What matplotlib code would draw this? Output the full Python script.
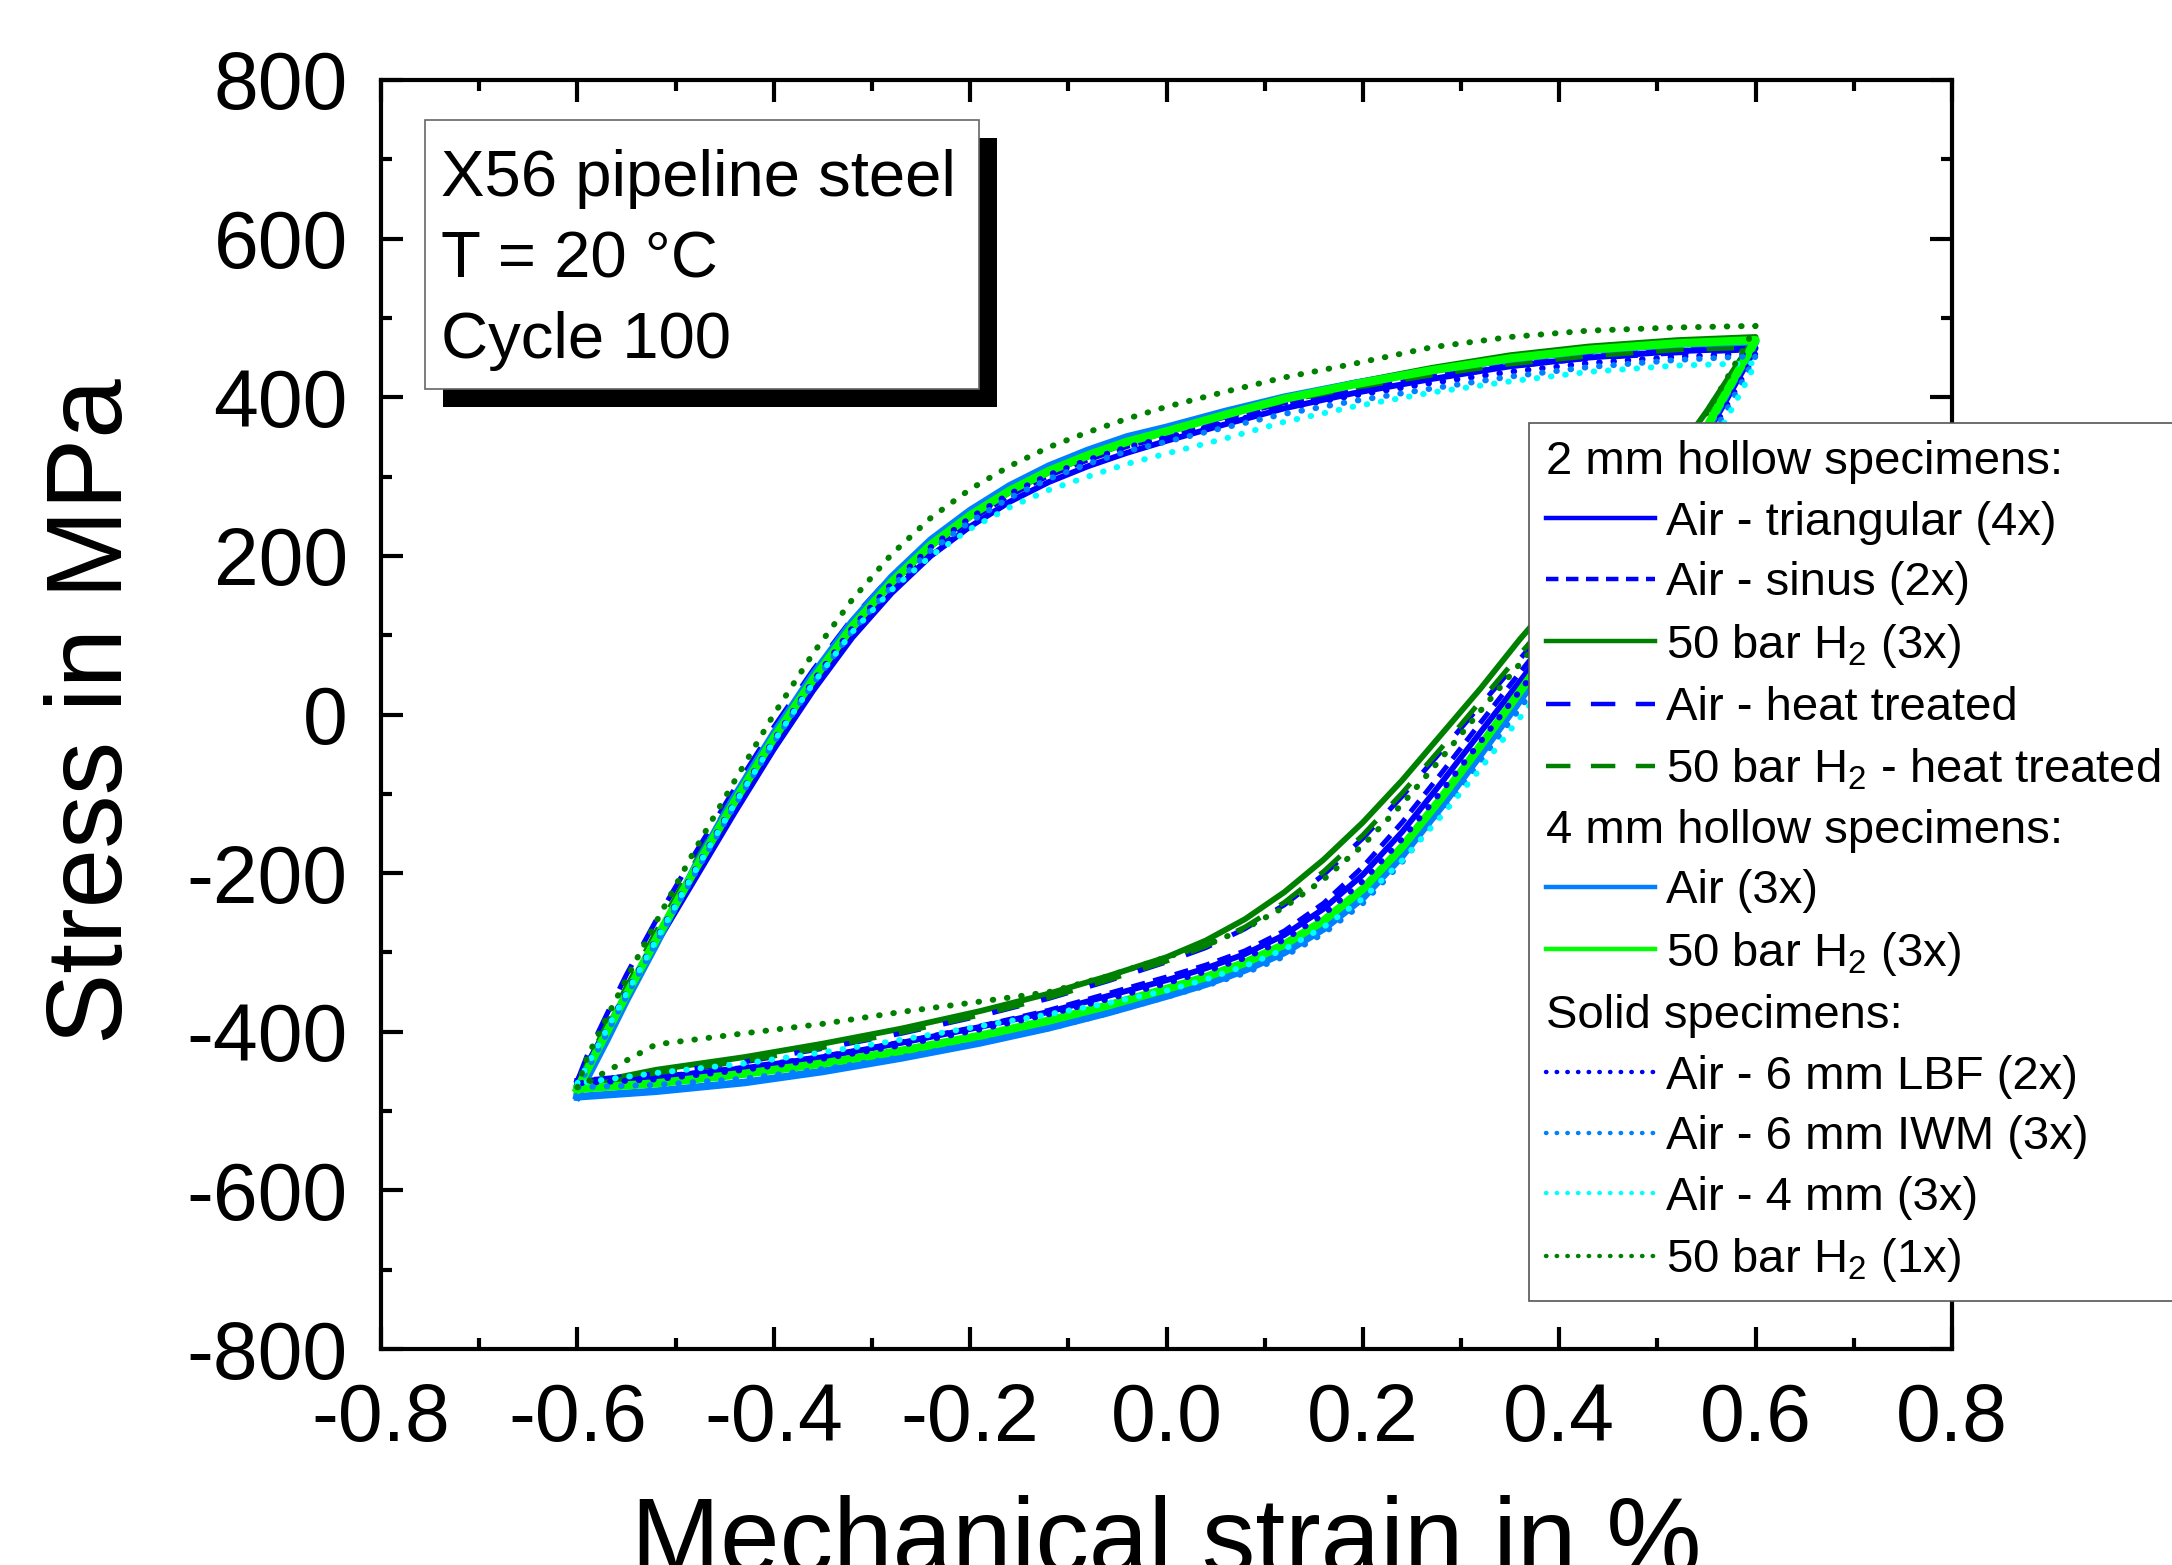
import matplotlib
matplotlib.use('Agg')
import matplotlib.pyplot as plt
from matplotlib.lines import Line2D
from matplotlib.patches import Rectangle
from matplotlib.ticker import MultipleLocator

plt.rcParams['font.family'] = ['Liberation Sans', 'DejaVu Sans']
plt.rcParams['mathtext.fontset'] = 'custom'
plt.rcParams['mathtext.rm'] = 'Liberation Sans'
plt.rcParams['mathtext.it'] = 'Liberation Sans:italic'
plt.rcParams['mathtext.bf'] = 'Liberation Sans:bold'
plt.rcParams['axes.unicode_minus'] = False

# ---------------- data ----------------
# strain of the loading (upper) and unloading (lower) branch, in %
eps_up = [-0.60, -0.59, -0.57, -0.55, -0.52, -0.48, -0.44, -0.40, -0.36, -0.32, -0.28, -0.24, -0.20,
          -0.16, -0.12, -0.08, -0.04, 0.00, 0.06, 0.12, 0.19, 0.27, 0.35, 0.43, 0.52, 0.60]
eps_dn = [0.60, 0.59, 0.57, 0.55, 0.52, 0.48, 0.44, 0.40, 0.36, 0.32, 0.28, 0.24, 0.20,
          0.16, 0.12, 0.08, 0.04, 0.00, -0.06, -0.12, -0.19, -0.27, -0.35, -0.43, -0.52, -0.60]

# stress in MPa -- 2 mm hollow specimens
air_tri_up = [-462, -440, -396, -353, -290, -207, -124, -44, 30, 97, 153, 200, 237, 268, 293, 313, 330, 345, 366, 386, 405, 423, 439, 450, 458, 462]
air_tri_dn = [462, 440, 396, 353, 302, 236, 170, 106, 42, -22, -86, -148, -202, -245, -278, -302, -320, -335, -355, -375, -394, -414, -432, -446, -458, -462]
air_sin_up = [-465, -441, -395, -350, -285, -200, -116, -36, 38, 105, 161, 208, 245, 276, 301, 321, 338, 351, 371, 391, 409, 427, 441, 452, 460, 463]
air_sin_dn = [463, 442, 399, 357, 306, 242, 178, 115, 53, -10, -74, -136, -192, -238, -273, -298, -316, -331, -352, -373, -393, -413, -431, -445, -457, -465]
h2_up = [-468, -444, -398, -353, -286, -197, -112, -32, 42, 109, 165, 212, 249, 280, 305, 325, 342, 356, 378, 399, 418, 437, 453, 464, 472, 476]
h2_dn = [476, 458, 420, 382, 330, 266, 212, 152, 95, 33, -25, -83, -136, -183, -224, -258, -285, -306, -330, -352, -374, -396, -415, -432, -448, -468]
air_ht_up = [-462, -430, -378, -328, -260, -175, -94, -16, 56, 121, 175, 220, 257, 287, 311, 330, 346, 357, 375, 393, 409, 425, 439, 449, 456, 460]
air_ht_dn = [460, 441, 402, 364, 314, 250, 188, 128, 70, 12, -46, -103, -156, -202, -240, -270, -294, -312, -336, -358, -380, -402, -421, -438, -453, -462]
h2_ht_up = [-470, -440, -390, -343, -274, -186, -101, -22, 51, 117, 172, 218, 255, 286, 310, 330, 346, 358, 377, 395, 412, 428, 442, 452, 460, 463]
h2_ht_dn = [463, 445, 407, 370, 320, 256, 194, 134, 76, 17, -42, -99, -152, -198, -237, -268, -292, -311, -335, -357, -379, -401, -420, -437, -452, -470]
# 4 mm hollow specimens
air4_up = [-482, -458, -410, -360, -290, -192, -104, -24, 50, 117, 173, 220, 257, 288, 313, 333, 350, 362, 382, 400, 417, 434, 448, 459, 467, 470]
air4_dn = [470, 448, 403, 358, 302, 230, 159, 88, 18, -50, -116, -178, -231, -270, -300, -322, -340, -355, -376, -395, -414, -433, -450, -464, -475, -482]
h24_up = [-472, -448, -400, -353, -284, -195, -110, -30, 44, 111, 167, 214, 251, 282, 307, 327, 344, 357, 378, 398, 416, 434, 449, 460, 468, 472]
h24_dn = [472, 450, 406, 362, 308, 238, 168, 98, 29, -39, -105, -167, -220, -260, -290, -313, -331, -346, -367, -386, -405, -424, -440, -453, -465, -472]
# solid specimens
lbf_up = [-465, -442, -396, -350, -283, -195, -111, -32, 42, 109, 165, 211, 248, 278, 302, 321, 337, 349, 368, 386, 402, 418, 432, 443, 451, 455]
lbf_dn = [455, 432, 388, 345, 292, 224, 158, 94, 30, -34, -97, -157, -210, -252, -284, -307, -324, -339, -359, -378, -397, -417, -434, -448, -460, -465]
iwm_up = [-470, -448, -402, -355, -288, -200, -115, -35, 39, 105, 161, 207, 243, 273, 297, 316, 332, 344, 362, 379, 395, 411, 426, 438, 447, 452]
iwm_dn = [452, 428, 383, 340, 284, 212, 142, 74, 8, -58, -124, -186, -238, -276, -305, -326, -342, -356, -377, -396, -414, -432, -447, -459, -467, -470]
air4s_up = [-465, -443, -397, -352, -285, -197, -113, -34, 39, 104, 157, 200, 234, 261, 283, 300, 316, 329, 348, 369, 388, 406, 420, 432, 440, 443]
air4s_dn = [443, 418, 372, 328, 270, 196, 126, 60, -4, -68, -128, -184, -232, -268, -296, -317, -334, -348, -364, -378, -393, -410, -426, -440, -452, -465]
h2s_up = [-470, -432, -382, -333, -262, -170, -84, 0, 77, 145, 202, 248, 284, 313, 337, 356, 373, 388, 407, 425, 442, 463, 476, 484, 488, 490]
h2s_dn = [490, 466, 422, 380, 324, 252, 186, 124, 64, 5, -55, -113, -165, -208, -243, -270, -291, -306, -330, -350, -362, -375, -390, -402, -416, -470]

titles = ['2 mm hollow specimens:', '4 mm hollow specimens:', 'Solid specimens:']
labels = ['Air - triangular (4x)', 'Air - sinus (2x)', r'50 bar H$_\mathregular{2}$ (3x)',
          'Air - heat treated', r'50 bar H$_\mathregular{2}$ - heat treated',
          'Air (3x)', r'50 bar H$_\mathregular{2}$ (3x)',
          'Air - 6 mm LBF (2x)', 'Air - 6 mm IWM (3x)', 'Air - 4 mm (3x)',
          r'50 bar H$_\mathregular{2}$ (1x)']
stress_up = [air_tri_up, air_sin_up, h2_up, air_ht_up, h2_ht_up, air4_up, h24_up,
             lbf_up, iwm_up, air4s_up, h2s_up]
stress_dn = [air_tri_dn, air_sin_dn, h2_dn, air_ht_dn, h2_ht_dn, air4_dn, h24_dn,
             lbf_dn, iwm_dn, air4s_dn, h2s_dn]

# ---------------- styles ----------------
BLUE, DGREEN, AZURE, LIME, CYAN = '#0000FF', '#008000', '#0080FF', '#00FF00', '#00FFFF'
DOT = (0, (0.1, 2.3))
SDASH = (0, (2.8, 1.7))
LDASH = (0, (5.5, 4.6))
styles = [
    dict(color=BLUE, ls='-', lw=4.2),
    dict(color=BLUE, ls=SDASH, lw=3.6),
    dict(color=DGREEN, ls='-', lw=4.2),
    dict(color=BLUE, ls=LDASH, lw=3.6),
    dict(color=DGREEN, ls=LDASH, lw=3.6),
    dict(color=AZURE, ls='-', lw=5.5),
    dict(color=LIME, ls='-', lw=6.0),
    dict(color=BLUE, ls=DOT, lw=4.3, dash_capstyle='round'),
    dict(color=AZURE, ls=DOT, lw=4.3, dash_capstyle='round'),
    dict(color=CYAN, ls=DOT, lw=4.3, dash_capstyle='round'),
    dict(color=DGREEN, ls=DOT, lw=4.3, dash_capstyle='round'),
]

W, H = 2172, 1565
fig = plt.figure(figsize=(W / 100, H / 100), dpi=100)
ax = fig.add_axes([381 / W, 1 - 1349 / H, (1952 - 381) / W, (1349 - 80) / H])

lines = []
for up, dn, st in zip(stress_up, stress_dn, styles):
    ln, = ax.plot(eps_up + eps_dn, up + dn, solid_joinstyle='round', **st)
    lines.append(ln)

ax.set_xlim(-0.8, 0.8)
ax.set_ylim(-800, 800)
ax.xaxis.set_major_locator(MultipleLocator(0.2))
ax.xaxis.set_minor_locator(MultipleLocator(0.1))
ax.yaxis.set_major_locator(MultipleLocator(200))
ax.yaxis.set_minor_locator(MultipleLocator(100))
ax.xaxis.set_major_formatter(matplotlib.ticker.FuncFormatter(lambda v, p: f'{v:.1f}'))
ax.tick_params(which='both', direction='in', top=True, right=True, width=3, color='black')
ax.tick_params(which='major', length=16)
ax.tick_params(which='minor', length=8)
ax.tick_params(axis='x', which='major', labelsize=58, pad=24)
ax.tick_params(axis='y', which='major', labelsize=58, pad=24)
for sp in ax.spines.values():
    sp.set_linewidth(3)

fig.text(144.5 / W, 1 - 711 / H, 'Stress in MPa', rotation=90, ha='right', va='center', fontsize=77)
fig.text(1166 / W, 1 - 1573 / H, 'Mechanical strain in %', ha='center', va='baseline', fontsize=77)

# info box with shadow
sh = 18
fig.patches.append(Rectangle(((425 + sh) / W, 1 - (389 + sh) / H), 554 / W, 269 / H,
                             transform=fig.transFigure, facecolor='black', edgecolor='none', zorder=10))
fig.patches.append(Rectangle((425 / W, 1 - 389 / H), 554 / W, 269 / H,
                             transform=fig.transFigure, facecolor='white', edgecolor='#666666',
                             linewidth=1.2, zorder=11))
for txt, yb in zip(['X56 pipeline steel', 'T = 20 °C', 'Cycle 100'], [196, 277, 358]):
    fig.text(441 / W, 1 - yb / H, txt, fontsize=47, ha='left', va='baseline', zorder=12)

# legend
blank = Line2D([], [], linestyle='none')
handles = [blank] + lines[0:5] + [blank] + lines[5:7] + [blank] + lines[7:11]
leg_labels = [titles[0]] + labels[0:5] + [titles[1]] + labels[5:7] + [titles[2]] + labels[7:11]
title_idx = [0, 6, 9]
leg = ax.legend(handles, leg_labels, loc='upper left', bbox_to_anchor=(1529 / W, 1 - 423 / H),
                bbox_transform=fig.transFigure, borderaxespad=0, fontsize=34,
                handlelength=2.3, handletextpad=0.24, borderpad=0.36, labelspacing=0.35,
                fancybox=False, framealpha=1, edgecolor='#555555')
leg.get_frame().set_linewidth(1.2)
for lh in leg.get_lines():
    lh.set_linewidth(min(lh.get_linewidth(), 3.2))
rows = leg._legend_handle_box.get_children()[0].get_children()
for i in title_idx:
    rows[i]._children = [rows[i]._children[1]]

fig.savefig('out.png', dpi=100)
